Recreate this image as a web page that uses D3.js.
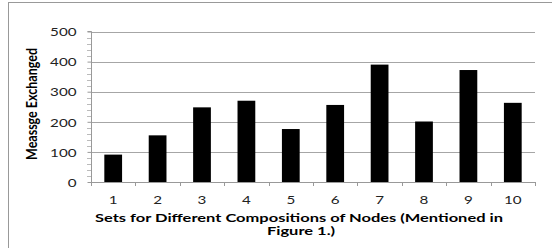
<!DOCTYPE html>
<html><head><meta charset="utf-8">
<script src="https://cdn.jsdelivr.net/npm/d3@7"></script>
<style>body{margin:0;background:#fff}svg{display:block}</style>
</head><body>
<script>
const categories = ["1","2","3","4","5","6","7","8","9","10"];
const values = [91, 155, 248, 270, 176, 256, 390, 201, 372, 263];
const yTicks = [0, 100, 200, 300, 400, 500];
const yTitle = "Meassge Exchanged";
const xTitleLines = ["Sets for Different Compositions of Nodes (Mentioned in", "Figure 1.)"];

const W = 552, H = 248;
const svg = d3.select("body").append("svg").attr("width", W).attr("height", H);
svg.append("rect").attr("x", 8.5).attr("y", 2.5).attr("width", 560).attr("height", 260)
  .attr("fill", "#fff").attr("stroke", "#999").attr("stroke-width", 1);

const x = d3.scaleBand().domain(categories).range([91, 535]).paddingInner(0.6).paddingOuter(0.3);
const y = d3.scaleLinear().domain([0, 500]).range([182, 31.5]);
const font = "Lato, 'Open Sans', sans-serif";

function stretch(sel, s) {
  sel.each(function () {
    const w = this.getComputedTextLength();
    d3.select(this).attr("textLength", w * s).attr("lengthAdjust", "spacingAndGlyphs");
  });
}

// gridlines
svg.append("g").selectAll("line").data(yTicks.filter(d => d > 0)).join("line")
  .attr("x1", 91).attr("x2", 535).attr("y1", d => Math.round(y(d)) + 0.5).attr("y2", d => Math.round(y(d)) + 0.5)
  .attr("stroke", "#a6a6a6").attr("stroke-width", 1);

// minor ticks
const minor = d3.range(0, 501, 20).filter(d => d % 100 !== 0);
svg.append("g").selectAll("line").data(minor).join("line")
  .attr("x1", 87).attr("x2", 91).attr("y1", d => Math.round(y(d)) + 0.5).attr("y2", d => Math.round(y(d)) + 0.5)
  .attr("stroke", "#bbb");

// bars
svg.append("g").selectAll("rect").data(values).join("rect")
  .attr("x", (d, i) => x(categories[i])).attr("width", x.bandwidth())
  .attr("y", d => y(d)).attr("height", d => y(0) - y(d)).attr("fill", "#000");

// y axis
const yAxis = d3.axisLeft(y).tickValues(yTicks).tickSize(4).tickPadding(11);
const gy = svg.append("g").attr("transform", "translate(91.5,0)").call(yAxis);
gy.select(".domain").attr("stroke", "#999").attr("d", `M-4,${y(500)}H0V${y(0)}`);
gy.selectAll(".tick line").attr("stroke", "#999");
gy.selectAll("text").attr("font-family", font).attr("font-size", 11).attr("fill", "#222").attr("dy", 4.2);
stretch(gy.selectAll("text"), 1.38);

// x axis
const xAxis = d3.axisBottom(x).tickSize(0);
const gx = svg.append("g").attr("transform", "translate(0,182.5)").call(xAxis);
gx.select(".domain").attr("stroke", "#999").attr("d", "M91,0H535");
gx.selectAll("text").attr("font-family", font).attr("font-size", 11).attr("fill", "#222")
  .attr("y", 21).attr("dy", 0);
stretch(gx.selectAll("text"), 1.38);
svg.append("g").selectAll("line").data(d3.range(0, 11)).join("line")
  .attr("x1", d => Math.round(91 + d * (444 / 10)) + 0.5).attr("x2", d => Math.round(91 + d * (444 / 10)) + 0.5)
  .attr("y1", 182).attr("y2", 186).attr("stroke", "#999");

// titles
svg.append("text").attr("transform", "translate(36.5,104) rotate(-90) scale(1,1.28)").attr("text-anchor", "middle")
  .attr("font-family", font).attr("font-weight", "bold").attr("font-size", 12).attr("fill", "#000")
  .attr("textLength", 112).attr("lengthAdjust", "spacingAndGlyphs")
  .text(yTitle);
const xt = svg.append("g").selectAll("text").data(xTitleLines).join("text")
  .attr("x", (d, i) => i === 0 ? 299 : 301).attr("y", (d, i) => 221.7 + i * 13.4).attr("text-anchor", "middle")
  .attr("font-family", font).attr("font-weight", "bold").attr("font-size", 11.5).attr("fill", "#000")
  .text(d => d);
const nat0 = xt.nodes()[0].getComputedTextLength();
stretch(xt, 408 / nat0);
</script>
</body></html>
